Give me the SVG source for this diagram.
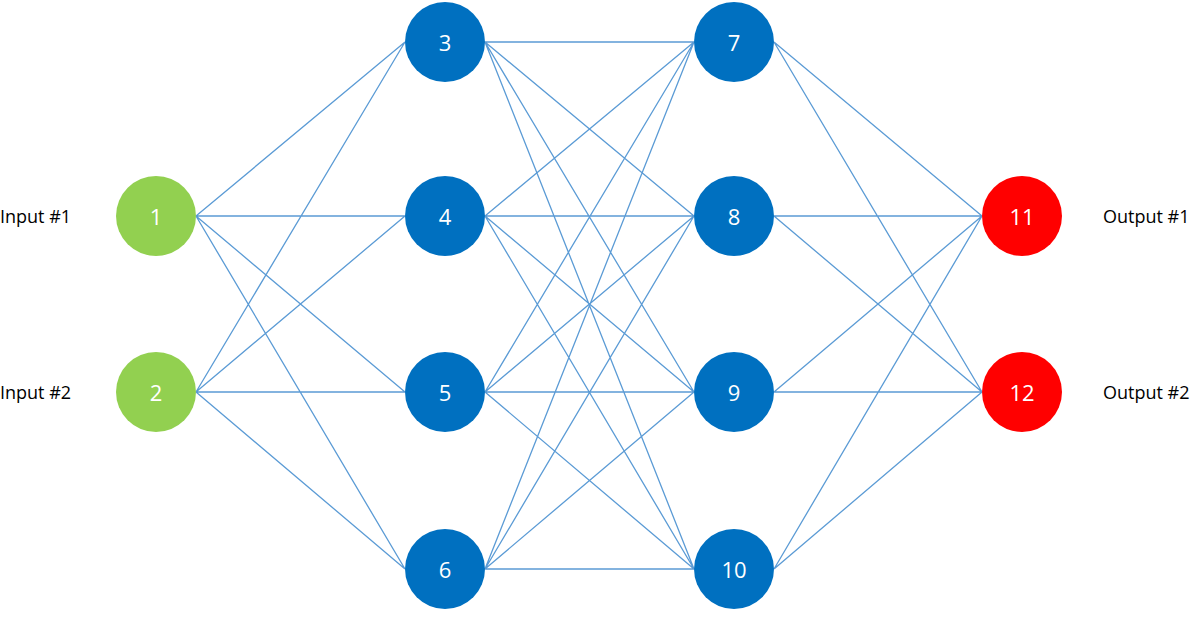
<svg xmlns="http://www.w3.org/2000/svg" width="1200" height="617" viewBox="0 0 1200 617">
<style>
.c{stroke:#5B9BD5;stroke-width:1.3;fill:none}
.n text{font-family:"Open Sans","Liberation Sans",sans-serif;font-size:22px;fill:#fff;text-anchor:middle;dominant-baseline:central}
.l{font-family:"Open Sans","Liberation Sans",sans-serif;font-size:18px;fill:#000;dominant-baseline:central}
.g{fill:#92D050}.b{fill:#0070C0}.r{fill:#FF0000}
</style>
<rect width="1200" height="617" fill="#fff"/>
<g id="connectors" class="c">
<path d="M196 216L405 42M196 216L405 216M196 216L405 392M196 216L405 569M196 392L405 42M196 392L405 216M196 392L405 392M196 392L405 569"/>
<path d="M485 42L694 42M485 42L694 216M485 42L694 392M485 42L694 569M485 216L694 42M485 216L694 216M485 216L694 392M485 216L694 569M485 392L694 42M485 392L694 216M485 392L694 392M485 392L694 569M485 569L694 42M485 569L694 216M485 569L694 392M485 569L694 569"/>
<path d="M774 42L982 216M774 42L982 392M774 216L982 216M774 216L982 392M774 392L982 216M774 392L982 392M774 569L982 216M774 569L982 392"/>
</g>
<g id="n1" class="n"><circle class="g" cx="156" cy="216" r="40"/><text x="156" y="216">1</text></g>
<g id="n2" class="n"><circle class="g" cx="156" cy="392" r="40"/><text x="156" y="392">2</text></g>
<g id="n3" class="n"><circle class="b" cx="445" cy="42" r="40"/><text x="445" y="42">3</text></g>
<g id="n4" class="n"><circle class="b" cx="445" cy="216" r="40"/><text x="445" y="216">4</text></g>
<g id="n5" class="n"><circle class="b" cx="445" cy="392" r="40"/><text x="445" y="392">5</text></g>
<g id="n6" class="n"><circle class="b" cx="445" cy="569" r="40"/><text x="445" y="569">6</text></g>
<g id="n7" class="n"><circle class="b" cx="734" cy="42" r="40"/><text x="734" y="42">7</text></g>
<g id="n8" class="n"><circle class="b" cx="734" cy="216" r="40"/><text x="734" y="216">8</text></g>
<g id="n9" class="n"><circle class="b" cx="734" cy="392" r="40"/><text x="734" y="392">9</text></g>
<g id="n10" class="n"><circle class="b" cx="734" cy="569" r="40"/><text x="734" y="569">10</text></g>
<g id="n11" class="n"><circle class="r" cx="1022" cy="216" r="40"/><text x="1022" y="216">11</text></g>
<g id="n12" class="n"><circle class="r" cx="1022" cy="392" r="40"/><text x="1022" y="392">12</text></g>
<text class="l" x="0" y="216">Input #1</text>
<text class="l" x="0" y="392">Input #2</text>
<text class="l" x="1103" y="216">Output #1</text>
<text class="l" x="1103" y="392">Output #2</text>
</svg>
